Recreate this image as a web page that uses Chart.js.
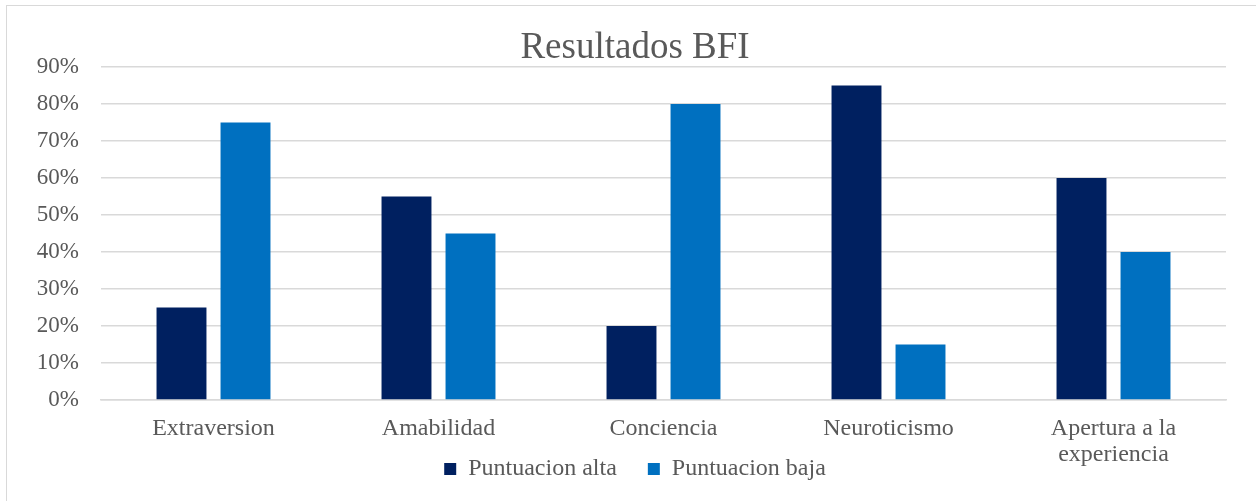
<!DOCTYPE html>
<html>
<head>
<meta charset="utf-8">
<script src="https://cdn.jsdelivr.net/npm/chart.js@4"></script>
<style>
  html, body { margin: 0; padding: 0; background: #fff; overflow: hidden; }
  #wrap { position: relative; width: 1256px; height: 501px; }
  #marco { position: absolute; left: 6px; top: 5px; width: 1270px; height: 520px; border: 1px solid #d9d9d9; box-sizing: border-box; }
  canvas { position: absolute; left: 0; top: 0; }
</style>
</head>
<body>
<div id="wrap">
  <div id="marco"></div>
  <canvas id="myChart" width="1256" height="501"></canvas>
</div>
<script>
// Datos del gráfico
const categorias = ['Extraversion', 'Amabilidad', 'Conciencia', 'Neuroticismo', ['Apertura a la', 'experiencia']];
const puntuacionAlta = [25, 55, 20, 85, 60];
const puntuacionBaja = [75, 45, 80, 15, 40];
const seriesNombres = ['Puntuacion alta', 'Puntuacion baja'];

const gris = '#595959';
const fuente = "'Liberation Serif', 'Times New Roman', serif";

const ctx = document.getElementById('myChart').getContext('2d');

// Las etiquetas de los ejes se salen de su caja: quitar el recorte
const sinRecorte = {
    id: 'sinRecorte',
    beforeDraw(chart) {
        chart.scales.x._computeLabelArea = () => undefined;
        chart.scales.y._computeLabelArea = () => undefined;
    }
};

const myChart = new Chart(ctx, {
    type: 'bar',
    data: {
        labels: categorias,
        datasets: [{
            label: seriesNombres[0],
            data: puntuacionAlta,
            backgroundColor: '#002060',
            categoryPercentage: 0.569,
            barPercentage: 0.78
        }, {
            label: seriesNombres[1],
            data: puntuacionBaja,
            backgroundColor: '#0070C0',
            categoryPercentage: 0.569,
            barPercentage: 0.78
        }]
    },
    options: {
        responsive: false,
        animation: false,
        layout: {
            padding: { left: 44, right: 30, top: 0, bottom: 10 }
        },
        plugins: {
            title: {
                display: true,
                text: 'Resultados BFI',
                color: gris,
                font: { family: fuente, size: 37, weight: 'normal', lineHeight: '38px' },
                padding: { top: 29, bottom: 0 }
            },
            legend: {
                position: 'bottom',
                labels: {
                    color: gris,
                    font: { family: fuente, size: 24 },
                    boxWidth: 12,
                    boxHeight: 12,
                    padding: 31
                }
            },
            tooltip: { enabled: false }
        },
        scales: {
            x: {
                grid: { display: false, drawTicks: false },
                border: { display: true, color: '#d9d9d9', width: 1.5 },
                ticks: {
                    color: gris,
                    padding: 16,
                    maxRotation: 0,
                    font: { family: fuente, size: 24, lineHeight: '26px' }
                },
                afterFit: function (scale) { scale.height = 26; }
            },
            y: {
                min: 0,
                max: 90,
                grid: { color: '#d9d9d9', lineWidth: 1.5, drawTicks: false },
                border: { display: false },
                ticks: {
                    stepSize: 10,
                    color: gris,
                    padding: 22,
                    font: { family: fuente, size: 23 },
                    callback: function (v) { return v + '%'; }
                },
                afterFit: function (scale) { scale.width = 57; }
            }
        }
    },
    plugins: [sinRecorte]
});
</script>
</body>
</html>
